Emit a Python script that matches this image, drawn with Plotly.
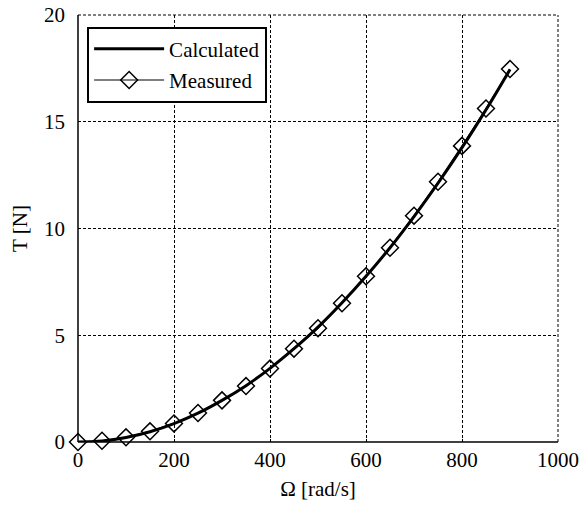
import plotly.graph_objects as go

# Rotor speed (rad/s) and thrust (N)
omega = [0, 50, 100, 150, 200, 250, 300, 350, 400, 450,
         500, 550, 600, 650, 700, 750, 800, 850, 900]
thrust_calc = [0.0, 0.05, 0.21, 0.48, 0.86, 1.35, 1.95, 2.64, 3.45, 4.37,
               5.38, 6.52, 7.76, 9.10, 10.56, 12.12, 13.78, 15.56, 17.45]
thrust_meas = [0.0, 0.06, 0.22, 0.50, 0.87, 1.36, 1.95, 2.62, 3.44, 4.37,
               5.33, 6.50, 7.76, 9.10, 10.60, 12.19, 13.87, 15.62, 17.47]

x_ticks = [0, 200, 400, 600, 800, 1000]
y_ticks = [0, 5, 10, 15, 20]

FONT = "Times New Roman, Liberation Serif, serif"
FS = 21

fig = go.Figure()
fig.add_trace(go.Scatter(
    x=omega, y=thrust_calc, mode="lines", name="Calculated",
    legendgroup="calc",
    line=dict(color="black", width=3, shape="spline"),
    cliponaxis=False,
))
fig.add_trace(go.Scatter(
    x=omega, y=thrust_meas, mode="lines+markers", name="Measured",
    legendgroup="meas",
    line=dict(color="black", width=1.2),
    marker=dict(symbol="diamond-open", size=13, color="black",
                line=dict(width=1.5, color="black")),
    cliponaxis=False,
))

axis_common = dict(
    showgrid=True, gridcolor="black", gridwidth=1, griddash="3px,2px",
    zeroline=False, showline=False, ticks="inside", ticklen=3,
    tickcolor="black", tickfont=dict(family=FONT, size=FS, color="black"),
    automargin=False,
)

fig.update_layout(
    width=586, height=508,
    margin=dict(l=78, r=28, t=15, b=66),
    paper_bgcolor="white", plot_bgcolor="white",
    font=dict(family=FONT, color="black"),
    showlegend=True,
    legend=dict(
        x=0.019, y=0.973, xanchor="left", yanchor="top",
        bgcolor="white", bordercolor="black", borderwidth=2,
        font=dict(family=FONT, size=FS, color="black"),
        itemwidth=70, tracegroupgap=1,
    ),
    xaxis=dict(range=[0, 1000], tickvals=x_ticks, ticklabelstandoff=3,
               title=dict(text="Ω [rad/s]", font=dict(family=FONT, size=FS),
                          standoff=10),
               **axis_common),
    yaxis=dict(range=[0, 20], tickvals=y_ticks, ticklabelstandoff=12,
               title=dict(text="T [N]", font=dict(family=FONT, size=FS),
                          standoff=10),
               **axis_common),
)

# solid left and bottom axis lines
fig.add_shape(type="line", xref="paper", yref="paper", x0=0, x1=0, y0=0, y1=1,
              line=dict(color="black", width=1.5), layer="below")
fig.add_shape(type="line", xref="paper", yref="paper", x0=0, x1=1, y0=0, y1=0,
              line=dict(color="black", width=1.5), layer="below")
# dashed top and right borders
fig.add_shape(type="line", xref="paper", yref="paper", x0=0, x1=1, y0=1, y1=1,
              line=dict(color="black", width=1, dash="3px,2px"))
fig.add_shape(type="line", xref="paper", yref="paper", x0=1, x1=1, y0=0, y1=1,
              line=dict(color="black", width=1, dash="3px,2px"))

fig.write_html("out.html")
